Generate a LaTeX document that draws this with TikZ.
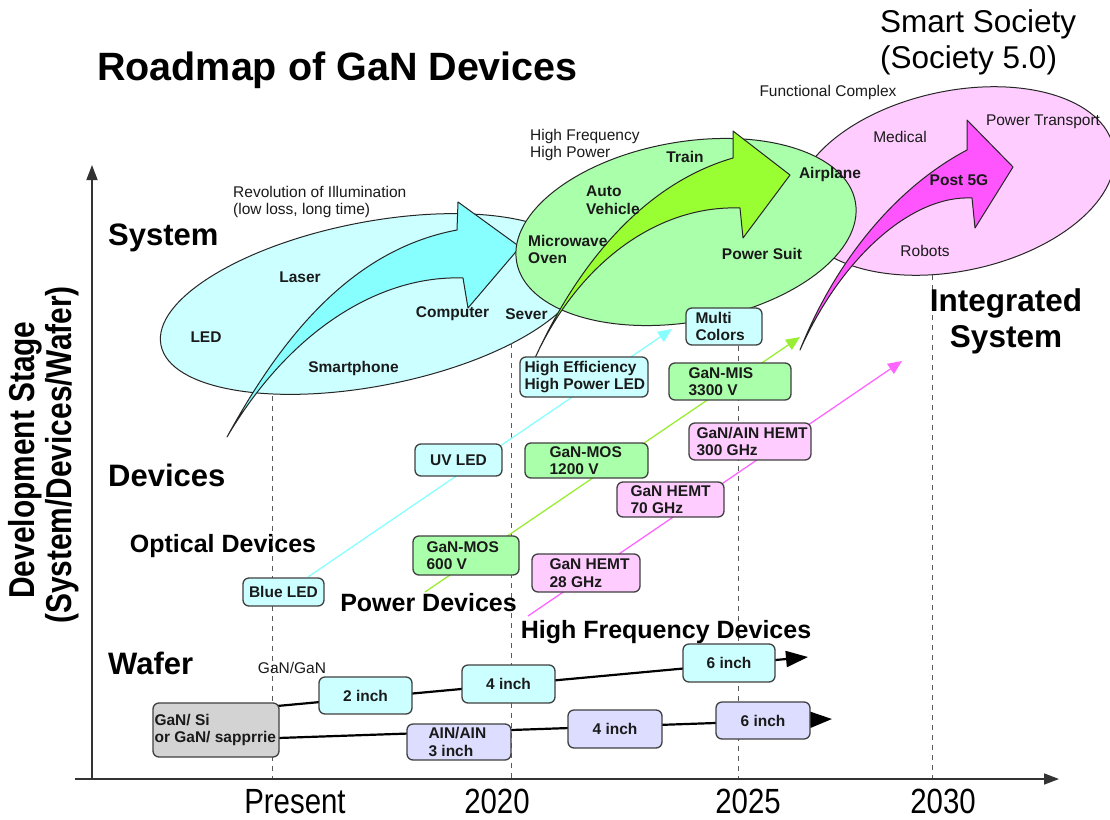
\documentclass[tikz,border=0pt]{standalone}
\usepackage{fontspec}
\setmainfont{Liberation Sans}
\usetikzlibrary{shapes.geometric,arrows.meta,calc}
\definecolor{cyanE}{HTML}{CCFFFF}
\definecolor{cyanA}{HTML}{88FFFF}
\definecolor{greenE}{HTML}{AAFFAA}
\definecolor{greenA}{HTML}{99FF33}
\definecolor{pinkE}{HTML}{FFCCFF}
\definecolor{pinkA}{HTML}{FF55FF}
\definecolor{cyanL}{HTML}{88FFFF}
\definecolor{greenL}{HTML}{99EE33}
\definecolor{pinkL}{HTML}{FF66FF}
\definecolor{lav}{HTML}{DDDDFF}
\definecolor{grayB}{HTML}{D3D3D3}
\definecolor{ink}{HTML}{1A1A1A}
\begin{document}
\begin{tikzpicture}[x=1pt,y=-1pt,
  ell/.style={ellipse, draw=black!85, line width=1pt, inner sep=0},
  bigarrow/.style={draw=black!85, line width=1pt, line join=round},
  dbox/.style={draw=black!75, line width=1.3pt, rounded corners=6pt, inner sep=0, font=\bfseries\fontsize{15.5}{17.5}\selectfont, text=ink},
  btxt/.style={anchor=west, align=left, inner sep=0, font=\bfseries\fontsize{15.5}{17.5}\selectfont, text=ink},
  elab/.style={inner sep=0, align=left, font=\bfseries\fontsize{15.5}{17.5}\selectfont, text=ink},
  rlab/.style={inner sep=0, align=left, font=\fontsize{15.5}{17}\selectfont, text=ink},
  big/.style={inner sep=0, align=center, font=\bfseries\fontsize{31}{36}\selectfont, text=black},
  mid/.style={inner sep=0, font=\bfseries\fontsize{25}{30}\selectfont, text=black},
  yr/.style={inner sep=0, anchor=base, font=\fontsize{35}{38}\selectfont, text=black},
  dashv/.style={draw=black!65, dash pattern=on 5pt off 5pt, line width=1pt},
  dev/.style={line width=1.3pt, -{Triangle[length=14pt,width=12pt]}},
  wafer/.style={line width=2.2pt, draw=black, -{Triangle[length=22pt,width=16pt]}},
  axis/.style={line width=1.6pt, draw=black!80, -{Triangle[length=15pt,width=11pt]}}
]
\fill[white] (0,0) rectangle (1110,819);
\useasboundingbox (0,0) rectangle (1110,819);

% ---- ellipses and big arrows
\node[ell, fill=pinkE, minimum width=324pt, minimum height=180pt, rotate=12] (ellP) at (955,181) {};
\node[ell, fill=cyanE, minimum width=430pt, minimum height=164pt, rotate=11] (ellC) at (372,304) {};
\draw[bigarrow, fill=cyanA] (227,437) .. controls (280,340) and (350,250) .. (457,230)
  -- (458,202) -- (520,247) -- (468,308) -- (463,278)
  .. controls (380,275) and (290,330) .. (227,437) -- cycle;
\node[ell, fill=greenE, minimum width=344pt, minimum height=180pt, rotate=10] (ellG) at (686,232) {};
\draw[bigarrow, fill=greenA] (535,358) .. controls (575,270) and (640,185) .. (733,158)
  -- (733,131) -- (790,175) -- (743,238) -- (740,208)
  .. controls (660,205) and (580,260) .. (535,358) -- cycle;
\draw[bigarrow, fill=pinkA] (800,350) .. controls (835,262) and (895,188) .. (967,150)
  -- (967,120) -- (1013,167) -- (975,228) -- (972,198)
  .. controls (910,195) and (840,260) .. (800,350) -- cycle;

% ---- dashed year lines
\draw[dashv] (272,396) -- (272,779);
\draw[dashv] (511,343) -- (511,779);
\draw[dashv] (738,346) -- (738,779);
\draw[dashv] (932,275) -- (932,779);

% ---- axes
\coordinate (origin) at (92,779);
\coordinate (ytip) at (92,165);
\coordinate (xstart) at (75,779);
\coordinate (xtip) at (1059,779);
\draw[axis] (origin) -- (ytip);
\draw[axis] (xstart) -- (xtip);

% ---- device trend lines
\coordinate (cyS) at (308,577); \coordinate (cyE) at (672,329);
\coordinate (grS) at (425,592); \coordinate (grE) at (800,337);
\coordinate (pkS) at (528,616); \coordinate (pkE) at (902,361);
\draw[dev, draw=cyanL, -{Triangle[length=14pt,width=12pt,fill=cyanL]}] (cyS) -- (cyE);
\draw[dev, draw=greenL, -{Triangle[length=14pt,width=12pt,fill=greenL]}] (grS) -- (grE);
\draw[dev, draw=pinkL, -{Triangle[length=14pt,width=12pt,fill=pinkL]}] (pkS) -- (pkE);

% ---- wafer lines
\coordinate (uS) at (277,706); \coordinate (uE) at (808,657);
\coordinate (lS) at (278,738); \coordinate (lE) at (832,719);
\draw[wafer] (uS) -- (uE);
\draw[wafer] (lS) -- (lE);

% ---- device boxes
\node[dbox, fill=cyanE, minimum width=81pt, minimum height=28pt] (blueled) at (283.5,592) {Blue LED};
\node[dbox, fill=cyanE, minimum width=87pt, minimum height=32pt] (uvled) at (458.5,460) {UV LED};
\node[dbox, fill=cyanE, minimum width=128pt, minimum height=40pt] (hieff) at (584,377) {};
\node[btxt] (hieffT) at ($(hieff.west)+(5,0)$) {High Efficiency\\High Power LED};
\node[dbox, fill=cyanE, minimum width=76pt, minimum height=37pt] (multi) at (724,326.5) {};
\node[btxt] (multiT) at ($(multi.west)+(10,0)$) {Multi\\Colors};

\node[dbox, fill=greenE, minimum width=106pt, minimum height=39pt] (mos600) at (466,555.5) {};
\node[btxt] (mos600T) at ($(mos600.west)+(14,0)$) {GaN-MOS\\600 V};
\node[dbox, fill=greenE, minimum width=123pt, minimum height=35pt] (mos1200) at (586.5,460.5) {};
\node[btxt] (mos1200T) at ($(mos1200.west)+(25,0)$) {GaN-MOS\\1200 V};
\node[dbox, fill=greenE, minimum width=122pt, minimum height=37pt] (mis) at (730,381.5) {};
\node[btxt] (misT) at ($(mis.west)+(20,0)$) {GaN-MIS\\3300 V};

\node[dbox, fill=pinkE, minimum width=108pt, minimum height=38pt] (h28) at (586,573) {};
\node[btxt] (h28T) at ($(h28.west)+(18,0)$) {GaN HEMT\\28 GHz};
\node[dbox, fill=pinkE, minimum width=107pt, minimum height=35pt] (h70) at (670.5,499.5) {};
\node[btxt] (h70T) at ($(h70.west)+(14,0)$) {GaN HEMT\\70 GHz};
\node[dbox, fill=pinkE, minimum width=122pt, minimum height=37pt] (h300) at (750,441.5) {};
\node[btxt] (h300T) at ($(h300.west)+(8,0)$) {GaN/AIN HEMT\\300 GHz};

% ---- wafer boxes
\node[dbox, fill=grayB, minimum width=126pt, minimum height=54pt] (sub) at (216,730) {};
\node[btxt] (subT) at ($(sub.west)+(2,0)$) {GaN/ Si\\or GaN/ sapprrie};
\node[dbox, fill=cyanE, minimum width=93pt, minimum height=37pt] (w2) at (365.5,695.5) {2 inch};
\node[dbox, fill=cyanE, minimum width=93pt, minimum height=38pt] (w4u) at (508.5,684) {4 inch};
\node[dbox, fill=cyanE, minimum width=92pt, minimum height=38pt] (w6u) at (729,663) {6 inch};
\node[dbox, fill=lav, minimum width=104pt, minimum height=36pt] (ain) at (459,742) {};
\node[btxt] (ainT) at ($(ain.west)+(22,0)$) {AIN/AIN\\3 inch};
\node[dbox, fill=lav, minimum width=94pt, minimum height=38pt] (w4l) at (615,729) {4 inch};
\node[dbox, fill=lav, minimum width=94pt, minimum height=37pt] (w6l) at (763,720.5) {6 inch};
\node[rlab] (gangan) at (292,668) {GaN/GaN};

% ---- ellipse labels
\node[elab] (led) at (206,337) {LED};
\node[elab] (laser) at (300,277) {Laser};
\node[elab] (computer) at (452.5,314) {Computer};
\node[elab] (sever) at (526.5,314) {Sever};
\node[elab] (smart) at (353.5,368) {Smartphone};
\node[elab, anchor=west] (micro) at (528,249.5) {Microwave\\Oven};
\node[elab, anchor=west] (auto) at (586,200) {Auto\\Vehicle};
\node[elab] (train) at (685,157) {Train};
\node[elab] (airplane) at (830,174) {Airplane};
\node[elab] (psuit) at (762,254) {Power Suit};
\node[rlab] (medical) at (900,137) {Medical};
\node[rlab] (ptrans) at (1043,122) {Power Transport};
\node[elab] (post5g) at (959,180) {Post 5G};
\node[rlab] (robots) at (925,251) {Robots};

% ---- captions
\node[rlab, anchor=west] (revill) at (233,201.5) {Revolution of Illumination\\(low loss, long time)};
\node[rlab, anchor=west, font=\fontsize{15.5}{16.5}\selectfont] (hfhp) at (530,145) {High Frequency\\High Power};
\node[rlab] (func) at (828,92) {Functional Complex};
\node[inner sep=0, anchor=west, align=left, font=\fontsize{31.5}{36}\selectfont] (society) at (880,42) {Smart Society\\(Society 5.0)};
\node[inner sep=0, font=\bfseries\fontsize{39.5}{44}\selectfont] (title) at (337.5,70) {Roadmap of GaN Devices};

\node[big, anchor=west] (sysL) at (108,238) {System};
\node[big, anchor=west] (devL) at (108,475) {Devices};
\node[big, anchor=west] (wafL) at (108,663) {Wafer};
\node[big, font=\bfseries\fontsize{31.5}{36}\selectfont] (integ) at (1006,321) {Integrated\\System};
\node[mid] (optL) at (223,546) {Optical Devices};
\node[mid] (powL) at (428.5,603) {Power Devices};
\node[mid] (hfL) at (666,632) {High Frequency Devices};

% ---- axis labels
\node[yr] (present) at (295,813) {\scalebox{0.84}[1]{Present}};
\node[yr] (y2020) at (497,813) {\scalebox{0.84}[1]{2020}};
\node[yr] (y2025) at (748,813) {\scalebox{0.84}[1]{2025}};
\node[yr] (y2030) at (943,813) {\scalebox{0.84}[1]{2030}};
\node[inner sep=0, rotate=90, font=\bfseries\fontsize{36}{40}\selectfont] (ylab1) at (25,460) {\scalebox{0.83}[1]{Development Stage}};
\node[inner sep=0, rotate=90, font=\bfseries\fontsize{36}{40}\selectfont] (ylab2) at (62,455) {\scalebox{0.83}[1]{(System/Devices/Wafer)}};
\end{tikzpicture}
\end{document}
